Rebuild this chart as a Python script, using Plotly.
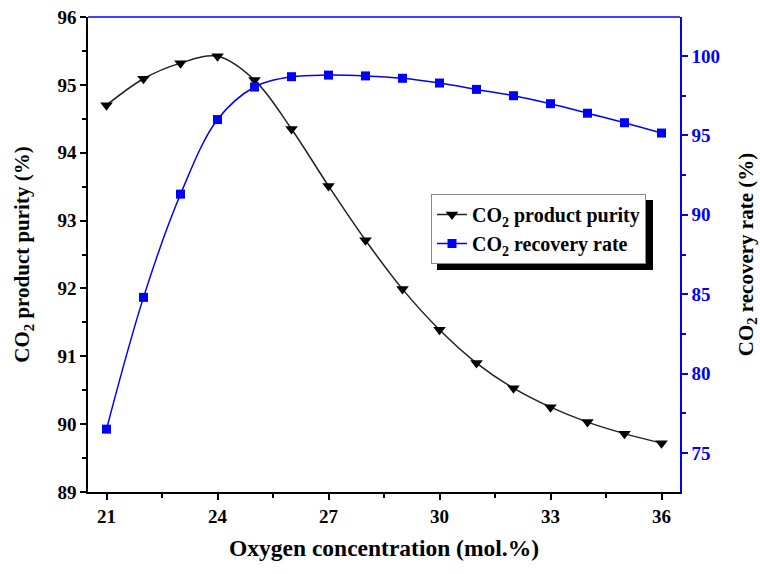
import plotly.graph_objects as go

# Oxygen concentration (mol.%)
oxygen = [21, 22, 23, 24, 25, 26, 27, 28, 29, 30, 31, 32, 33, 34, 35, 36]
# CO2 product purity (%)
purity = [94.70, 95.09, 95.32, 95.42, 95.07, 94.35, 93.51, 92.71, 91.99, 91.39,
          90.90, 90.53, 90.25, 90.03, 89.86, 89.72]
# CO2 recovery rate (%)
recovery = [76.5, 84.8, 91.3, 96.0, 98.05, 98.7, 98.8, 98.75, 98.6, 98.3,
            97.9, 97.5, 97.0, 96.4, 95.8, 95.15]

FONT = "Liberation Serif"
BLUE = "#0000ff"

fig = go.Figure()
fig.add_trace(go.Scatter(
    x=oxygen, y=purity, name="<b>CO<sub>2</sub> product purity</b>",
    mode="lines+markers", line=dict(color="#222222", width=1.5, shape="spline"),
    marker=dict(symbol="triangle-down", size=11, color="black"),
))
fig.add_trace(go.Scatter(
    x=oxygen, y=recovery, name="<b>CO<sub>2</sub> recovery rate</b>",
    mode="lines+markers", yaxis="y2",
    line=dict(color=BLUE, width=1.5, shape="spline"),
    marker=dict(symbol="square", size=9, color=BLUE),
))

TICK = 19
fig.update_layout(
    width=760, height=574,
    margin=dict(l=88, r=80, t=17, b=82),
    paper_bgcolor="white", plot_bgcolor="white",
    font=dict(family=FONT, size=TICK, color="black"),
    xaxis=dict(
        range=[20.5, 36.5], tickvals=[21, 24, 27, 30, 33, 36], automargin=False,
        showgrid=False, zeroline=False, showline=True, linecolor="black", linewidth=1.5,
        ticks="outside", ticklen=6, tickwidth=1.5, tickcolor="black",
        minor=dict(tickvals=[22.5, 25.5, 28.5, 31.5, 34.5], ticks="outside", ticklen=4,
                   tickwidth=1.5, tickcolor="black"),
        tickfont=dict(family=FONT, size=TICK, color="black", weight="bold"),
        title=dict(text="<b>Oxygen concentration (mol.%)</b>",
                   font=dict(family=FONT, size=23.5), standoff=14),
    ),
    yaxis=dict(
        range=[89, 96], dtick=1, automargin=False,
        showgrid=False, zeroline=False, showline=True, linecolor="black", linewidth=1.5,
        ticks="outside", ticklen=6, tickwidth=1.5, tickcolor="black",
        minor=dict(dtick=0.5, ticks="outside", ticklen=4, tickwidth=1.5, tickcolor="black"),
        tickfont=dict(family=FONT, size=TICK, color="black", weight="bold"),
        title=dict(text="<b>CO<sub>2</sub> product purity (%)</b>",
                   font=dict(family=FONT, size=21), standoff=22),
    ),
    yaxis2=dict(
        overlaying="y", side="right", range=[72.54, 102.46], automargin=False,
        tickvals=[75, 80, 85, 90, 95, 100],
        showgrid=False, zeroline=False, showline=True, linecolor=BLUE, linewidth=1.5,
        ticks="outside", ticklen=6, tickwidth=1.5, tickcolor=BLUE,
        minor=dict(tickvals=[77.5, 82.5, 87.5, 92.5, 97.5], ticks="outside", ticklen=4,
                   tickwidth=1.5, tickcolor=BLUE),
        tickfont=dict(family=FONT, size=TICK, color=BLUE, weight="bold"),
        title=dict(text="<b>CO<sub>2</sub> recovery rate (%)</b>",
                   font=dict(family=FONT, size=21, color="black"), standoff=22),
    ),
    legend=dict(
        x=(431 - 88) / 592, y=(492 - 194) / 475, xanchor="left", yanchor="top",
        bgcolor="white", bordercolor="#888888", borderwidth=1,
        font=dict(family=FONT, size=20, color="black"),
        itemwidth=30, tracegroupgap=0,
    ),
    showlegend=True,
)

# Blue top frame line
fig.add_shape(type="line", xref="paper", yref="paper", x0=0, x1=1, y0=1, y1=1,
              line=dict(color=BLUE, width=1.5))
# Legend drop shadow
fig.add_shape(type="rect", xref="paper", yref="paper",
              x0=(437 - 88) / 592, x1=(653 - 88) / 592,
              y0=(492 - 270) / 475, y1=(492 - 200) / 475,
              fillcolor="black", line=dict(width=0))

fig.write_html("out.html")
